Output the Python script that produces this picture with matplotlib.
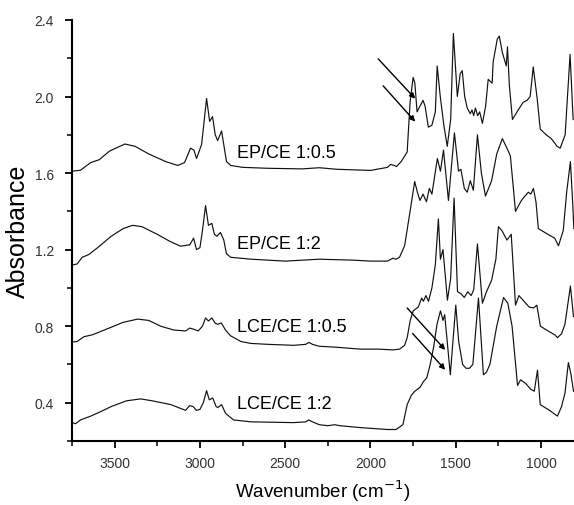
import matplotlib
matplotlib.use("Agg")
import matplotlib.pyplot as plt
from matplotlib.ticker import MultipleLocator

plt.rcParams['font.family'] = ['Liberation Sans', 'DejaVu Sans']

# ---- data ----
wn1 = [3748, 3700, 3640, 3590, 3530, 3440, 3380, 3300, 3200, 3130, 3090, 3055, 3035, 3020,
       2990, 2961, 2943, 2926, 2910, 2896, 2873, 2855, 2844, 2820, 2750, 2600, 2400, 2300,
       2200, 2000, 1900, 1883, 1860, 1848, 1820, 1785, 1768, 1750, 1740, 1727, 1710, 1692,
       1680, 1661, 1640, 1620, 1609, 1591, 1570, 1550, 1530, 1514, 1491, 1474, 1462, 1448,
       1433, 1415, 1405, 1395, 1385, 1372, 1360, 1344, 1325, 1310, 1287, 1281, 1257, 1245,
       1227, 1204, 1197, 1186, 1168, 1141, 1105, 1082, 1064, 1046, 1023, 1005, 970, 940,
       906, 888, 859, 830, 812]
ab1 = [1.61, 1.615, 1.655, 1.67, 1.715, 1.752, 1.74, 1.70, 1.66, 1.64, 1.655, 1.73, 1.72, 1.676,
       1.75, 1.99, 1.87, 1.895, 1.80, 1.77, 1.82, 1.72, 1.66, 1.64, 1.63, 1.625, 1.622, 1.628,
       1.62, 1.614, 1.63, 1.645, 1.64, 1.634, 1.66, 1.71, 1.97, 2.10, 2.07, 1.92, 1.95, 1.98,
       1.95, 1.84, 1.85, 1.92, 2.16, 2.00, 1.85, 1.74, 1.88, 2.33, 2.00, 2.12, 2.135, 2.00,
       1.94, 1.91, 1.93, 1.90, 1.94, 1.90, 1.92, 1.86, 1.95, 2.09, 2.07, 2.18, 2.30, 2.316,
       2.23, 2.16, 2.26, 2.06, 1.88, 1.92, 1.97, 1.98, 2.00, 2.155, 1.99, 1.83, 1.80, 1.78,
       1.74, 1.73, 1.80, 2.22, 1.88]

wn2 = [3748, 3720, 3690, 3650, 3600, 3520, 3450, 3395, 3340, 3250, 3180, 3114, 3060, 3037,
       3020, 3000, 2985, 2967, 2950, 2930, 2915, 2900, 2880, 2860, 2845, 2820, 2700, 2500,
       2300, 2100, 2000, 1900, 1870, 1850, 1830, 1800, 1768, 1741, 1725, 1710, 1692, 1672,
       1655, 1640, 1608, 1590, 1572, 1543, 1508, 1484, 1470, 1450, 1433, 1415, 1397, 1373,
       1350, 1326, 1290, 1260, 1227, 1200, 1180, 1150, 1120, 1104, 1075, 1060, 1045, 1030,
       1016, 960, 920, 898, 870, 850, 828, 815, 808]
ab2 = [1.12, 1.125, 1.16, 1.175, 1.21, 1.27, 1.31, 1.327, 1.32, 1.28, 1.245, 1.218, 1.225, 1.26,
       1.20, 1.21, 1.30, 1.43, 1.327, 1.337, 1.28, 1.27, 1.29, 1.25, 1.18, 1.16, 1.15, 1.14,
       1.15, 1.145, 1.14, 1.14, 1.155, 1.15, 1.16, 1.22, 1.40, 1.556, 1.50, 1.457, 1.49, 1.45,
       1.52, 1.49, 1.676, 1.61, 1.72, 1.457, 1.81, 1.61, 1.62, 1.52, 1.50, 1.56, 1.51, 1.80,
       1.60, 1.48, 1.56, 1.70, 1.78, 1.73, 1.69, 1.40, 1.45, 1.47, 1.50, 1.49, 1.52, 1.45,
       1.31, 1.28, 1.26, 1.22, 1.30, 1.50, 1.66, 1.45, 1.31]

wn3 = [3748, 3720, 3680, 3630, 3560, 3450, 3365, 3300, 3230, 3154, 3084, 3060, 3040, 3010,
       2985, 2967, 2950, 2930, 2910, 2895, 2875, 2850, 2821, 2760, 2703, 2600, 2451, 2380,
       2360, 2340, 2300, 2200, 2060, 1950, 1870, 1830, 1800, 1785, 1767, 1750, 1720, 1700,
       1690, 1675, 1660, 1640, 1620, 1602, 1590, 1575, 1549, 1530, 1510, 1490, 1470, 1450,
       1430, 1410, 1395, 1373, 1344, 1320, 1290, 1265, 1250, 1230, 1200, 1175, 1150, 1130,
       1100, 1070, 1045, 1025, 1004, 950, 920, 904, 880, 860, 828, 810]
ab3 = [0.717, 0.72, 0.745, 0.755, 0.78, 0.82, 0.837, 0.83, 0.80, 0.78, 0.775, 0.79, 0.785, 0.775,
       0.80, 0.843, 0.827, 0.843, 0.815, 0.81, 0.817, 0.78, 0.75, 0.72, 0.71, 0.705, 0.70, 0.705,
       0.715, 0.705, 0.695, 0.69, 0.68, 0.68, 0.676, 0.68, 0.70, 0.74, 0.83, 0.88, 0.90, 0.947,
       0.93, 0.96, 0.93, 1.00, 1.12, 1.36, 1.15, 1.20, 0.936, 1.05, 1.47, 0.98, 0.97, 0.95,
       0.98, 0.96, 0.99, 1.23, 0.92, 0.98, 1.04, 1.15, 1.32, 1.30, 1.25, 1.28, 0.91, 0.96,
       0.93, 0.90, 0.895, 0.91, 0.80, 0.77, 0.755, 0.74, 0.76, 0.81, 1.01, 0.85]

wn4 = [3748, 3730, 3700, 3670, 3640, 3590, 3520, 3430, 3347, 3280, 3170, 3084, 3060, 3040,
       3020, 3000, 2980, 2961, 2945, 2925, 2905, 2895, 2873, 2850, 2803, 2700, 2451, 2380,
       2363, 2340, 2300, 2250, 2210, 2180, 2060, 1900, 1850, 1810, 1785, 1760, 1740, 1710,
       1690, 1670, 1650, 1630, 1610, 1590, 1575, 1565, 1532, 1500, 1483, 1460, 1440, 1420,
       1400, 1367, 1338, 1320, 1300, 1260, 1220, 1195, 1170, 1138, 1120, 1090, 1060, 1040,
       1021, 1005, 950, 920, 904, 880, 860, 840, 825, 810]
ab4 = [0.296, 0.29, 0.31, 0.32, 0.33, 0.35, 0.38, 0.41, 0.42, 0.41, 0.39, 0.36, 0.385, 0.38,
       0.36, 0.365, 0.40, 0.463, 0.415, 0.425, 0.38, 0.375, 0.39, 0.345, 0.31, 0.30, 0.296, 0.30,
       0.31, 0.30, 0.285, 0.28, 0.285, 0.28, 0.27, 0.26, 0.26, 0.285, 0.39, 0.44, 0.46, 0.48,
       0.51, 0.53, 0.60, 0.69, 0.81, 0.88, 0.83, 0.86, 0.546, 0.91, 0.72, 0.60, 0.58, 0.58,
       0.60, 0.947, 0.546, 0.56, 0.60, 0.80, 0.95, 0.92, 0.80, 0.49, 0.52, 0.50, 0.47, 0.46,
       0.57, 0.39, 0.36, 0.34, 0.33, 0.38, 0.45, 0.61, 0.55, 0.46]

labels = ["EP/CE 1:0.5", "EP/CE 1:2", "LCE/CE 1:0.5", "LCE/CE 1:2"]
label_x = [2785, 2785, 2785, 2785]
label_y = [1.71, 1.233, 0.80, 0.395]

# arrows: (tail_x, tail_y, head_x, head_y)
arrows = [(1955, 2.197, 1738, 1.989),
          (1926, 2.056, 1738, 1.869),
          (1785, 0.895, 1562, 0.676),
          (1753, 0.762, 1562, 0.572)]

xticks = [3500, 3000, 2500, 2000, 1500, 1000]
yticks = [0.4, 0.8, 1.2, 1.6, 2.0, 2.4]

# ---- figure ----
fig = plt.figure(figsize=(5.74, 5.06), dpi=100)
ax = fig.add_axes([0.1254, 0.1265, 0.8746, 0.832])

for wn, ab in [(wn1, ab1), (wn2, ab2), (wn3, ab3), (wn4, ab4)]:
    ax.plot(wn, ab, color='#111111', lw=0.85)

for t, lx, ly in zip(labels, label_x, label_y):
    ax.text(lx, ly, t, ha='left', va='center', fontsize=13, color='black')

for tx, ty, hx, hy in arrows:
    ax.annotate('', xy=(hx, hy), xytext=(tx, ty),
                arrowprops=dict(arrowstyle='-|>', lw=1.0, color='black',
                                mutation_scale=8, shrinkA=0, shrinkB=0))

ax.set_xlim(3750, 807)
ax.set_ylim(0.2, 2.4)
ax.set_xticks(xticks)
ax.set_yticks(yticks)
ax.xaxis.set_minor_locator(MultipleLocator(250))
ax.yaxis.set_minor_locator(MultipleLocator(0.2))
ax.set_yticklabels([f"{v:.1f}" for v in yticks])

for s in ['top', 'right']:
    ax.spines[s].set_visible(False)
for s in ['left', 'bottom']:
    ax.spines[s].set_linewidth(1.5)
ax.tick_params(which='major', direction='out', length=5, width=1.3, labelsize=10,
               labelcolor='#333333')
ax.tick_params(which='minor', direction='out', length=3.5, width=1.1)
ax.tick_params(axis='y', which='major', pad=8)
ax.tick_params(axis='x', which='major', pad=6)

ax.set_xlabel("Wavenumber (cm$^{-1}$)", fontsize=13.5, labelpad=5)
ax.set_ylabel("Absorbance", fontsize=18, labelpad=3)

fig.savefig("out.png", dpi=100)
